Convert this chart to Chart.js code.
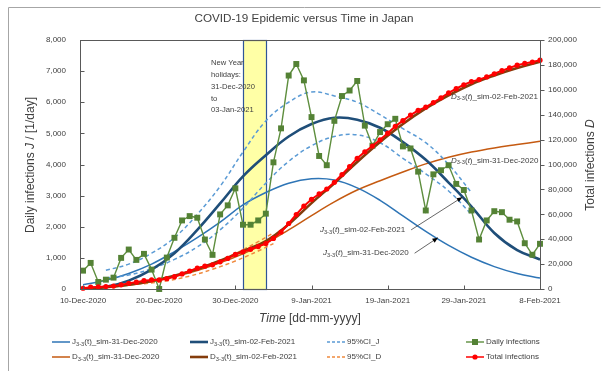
<!DOCTYPE html>
<html>
<head>
<meta charset="utf-8">
<script src="https://cdn.jsdelivr.net/npm/chart.js@4/dist/chart.umd.min.js"></script>
<style>
  html, body { margin: 0; background: #fff; }
  #wrap { position: relative; width: 608px; height: 371px; }
</style>
</head>
<body>
<div id="wrap"><canvas id="c" width="608" height="371"></canvas></div>
<script>
const F = "'Liberation Sans', Arial, sans-serif";
const TXT = '#404040';

// x axis: day index from 10-Dec-2020, labels every 10 days
const xTickDays = [0, 10, 20, 30, 40, 50, 60];
const xTickLabels = ['10-Dec-2020', '20-Dec-2020', '30-Dec-2020', '9-Jan-2021', '19-Jan-2021', '29-Jan-2021', '8-Feb-2021'];

// observed data, one value per day (day 0 = 10-Dec-2020)
const dailyInfections = [
  590, 838, 226, 300, 365, 1000, 1268, 935, 1129, 623,
  0, 1010, 1645, 2203, 2342, 2290, 1590, 1097, 2397, 2687,
  3235, 2065, 2065, 2203, 2420, 4070, 5161, 6858, 7229, 6703,
  5523, 4274, 3977, 5403, 6200, 6377, 6684, 5248, 4603, 5042,
  5294, 5468, 4581, 4516, 3771, 2523, 3684, 3816, 3977, 3377,
  3181, 2523, 1590, 2203, 2500, 2468, 2226, 2171, 1471, 1100,
  1452
];
const totalInfections = [
  590, 1428, 1654, 1954, 2319, 3319, 4587, 5522, 6651, 7274,
  7274, 8284, 9929, 12132, 14474, 16764, 18354, 19451, 21848, 24535,
  27770, 29835, 31900, 34103, 36523, 40593, 45754, 52612, 59841, 66544,
  72067, 76341, 80318, 85721, 91921, 98298, 104982, 110230, 114833, 119875,
  125169, 130637, 135218, 139734, 143505, 146028, 149712, 153528, 157505, 160882,
  164063, 166586, 168176, 170379, 172879, 175347, 177573, 179744, 181215, 182315,
  183767
];

// simulated curves, sampled every 3 days
const simDays = [0, 3, 6, 9, 12, 15, 18, 21, 24, 27, 30, 33, 36, 39, 42, 45, 48, 51, 54, 57, 60];
const jSim31Dec = [140, 280, 500, 800, 1200, 1650, 2150, 2700, 3100, 3400, 3540, 3500, 3250, 2850, 2350, 1850, 1400, 1020, 720, 500, 350];
const jSim02Feb = [20, 70, 270, 620, 1150, 1900, 2750, 3620, 4300, 4900, 5300, 5500, 5440, 5180, 4720, 4150, 3420, 2650, 1800, 1250, 950];
const dSim31Dec = [300, 1300, 3000, 5800, 9800, 14800, 21000, 28300, 36800, 47500, 59000, 70000, 79500, 87000, 94000, 100500, 105800, 110000, 113300, 116000, 118600];
const dSim02Feb = [300, 1400, 3500, 6500, 10600, 16000, 22800, 30400, 38500, 52000, 69000, 85000, 102000, 118000, 132500, 145000, 155500, 164500, 171500, 177500, 182500];

// 95% confidence bands
const ciJDays = [3, 6, 9, 12, 15, 18, 21, 24, 27, 30, 33, 36, 39, 42, 45, 48, 51];
const ciJUpper = [600, 800, 1150, 1650, 2400, 3300, 4400, 5400, 6000, 6330, 6200, 6000, 5600, 5150, 4700, 4000, 3100];
const ciJLower = [350, 450, 650, 950, 1350, 1900, 2600, 3400, 4100, 4600, 4900, 4950, 4700, 4200, 3700, 3150, 2400];
const ciDDays = [8, 11, 14, 17, 20, 23, 25];
const ciDUpper = [6000, 9000, 14000, 20500, 28500, 38000, 45000];
const ciDLower = [4200, 6600, 10400, 15800, 22500, 30500, 36500];

// New Year holidays: 31-Dec-2020 .. 03-Jan-2021
const holidayStart = 21;
const holidayEnd = 24;

const pairs = (xs, ys) => xs.map((x, i) => ({ x, y: ys[i] }));

const C = {
  j31: '#2E75B6', j02: '#1F4E79', ciJ: '#5B9BD5', daily: '#548235', dailyLine: '#5E8E3E',
  d31: '#C55A11', d02: '#843C0C', ciD: '#F08A3E', total: '#FF0000'
};

function line(label, data, color, width, extra) {
  return Object.assign({
    label, data, borderColor: color, backgroundColor: color, borderWidth: width,
    pointRadius: 0, tension: 0.4, fill: false, clip: 8
  }, extra || {});
}

const datasets = [
  line('total', pairs(dailyInfections.map((_, i) => i), totalInfections), C.total, 2,
    { yAxisID: 'y1', tension: 0, pointRadius: 2.6, pointStyle: 'circle', pointBorderWidth: 0, order: 0 }),
  line('daily', pairs(dailyInfections.map((_, i) => i), dailyInfections), C.dailyLine, 1.4,
    { yAxisID: 'y', tension: 0, pointRadius: 4.2, pointStyle: 'rect', pointBackgroundColor: C.daily,
      pointBorderColor: C.daily, pointBorderWidth: 0, order: 1 }),
  line('j02', pairs(simDays, jSim02Feb), C.j02, 2.6, { yAxisID: 'y', order: 3 }),
  line('d02', pairs(simDays, dSim02Feb), C.d02, 2.6, { yAxisID: 'y1', order: 2 }),
  line('j31', pairs(simDays, jSim31Dec), C.j31, 1.5, { yAxisID: 'y', order: 5 }),
  line('d31', pairs(simDays, dSim31Dec), C.d31, 1.5, { yAxisID: 'y1', order: 5 }),
  line('ciJu', pairs(ciJDays, ciJUpper), C.ciJ, 1.5, { yAxisID: 'y', borderDash: [4, 3], order: 4 }),
  line('ciJl', pairs(ciJDays, ciJLower), C.ciJ, 1.5, { yAxisID: 'y', borderDash: [4, 3], order: 4 }),
  line('ciDu', pairs(ciDDays, ciDUpper), C.ciD, 1.5, { yAxisID: 'y1', borderDash: [4, 3], order: 4 }),
  line('ciDl', pairs(ciDDays, ciDLower), C.ciD, 1.5, { yAxisID: 'y1', borderDash: [4, 3], order: 4 })
];

// text with italic letters and subscripts
function rich(ctx, parts, x, y, size, align) {
  const font = p => `${p.i ? 'italic ' : ''}${p.sub ? size * 0.72 : size}px ${F}`;
  let w = 0;
  for (const p of parts) { ctx.font = font(p); w += ctx.measureText(p.t).width; }
  let cx = align === 'center' ? x - w / 2 : (align === 'right' ? x - w : x);
  ctx.textAlign = 'left';
  ctx.textBaseline = 'middle';
  for (const p of parts) {
    ctx.font = font(p);
    ctx.fillText(p.t, cx, p.sub ? y + size * 0.28 : y);
    cx += ctx.measureText(p.t).width;
  }
  return w;
}
const simName = (letter, rest, it) => [
  { t: letter, i: it }, { t: '3-3', sub: true }, { t: '(' }, { t: 't', i: it }, { t: ')' + rest }
];

function arrow(ctx, x0, y0, x1, y1) {
  const a = Math.atan2(y1 - y0, x1 - x0);
  ctx.beginPath();
  ctx.moveTo(x0, y0);
  ctx.lineTo(x1, y1);
  ctx.stroke();
  ctx.beginPath();
  ctx.moveTo(x1, y1);
  ctx.lineTo(x1 - 6 * Math.cos(a - 0.4), y1 - 6 * Math.sin(a - 0.4));
  ctx.lineTo(x1 - 6 * Math.cos(a + 0.4), y1 - 6 * Math.sin(a + 0.4));
  ctx.closePath();
  ctx.fill();
}

const legendItems = [
  { parts: simName('J', '_sim-31-Dec-2020'), color: C.j31, w: 1.5 },
  { parts: simName('J', '_sim-02-Feb-2021'), color: C.j02, w: 2.6 },
  { parts: [{ t: '95%CI_J' }], color: C.ciJ, w: 1.5, dash: [3, 2] },
  { parts: [{ t: 'Daily infections' }], color: C.dailyLine, w: 1.4, marker: 'rect', mc: C.daily },
  { parts: simName('D', '_sim-31-Dec-2020'), color: C.d31, w: 1.5 },
  { parts: simName('D', '_sim-02-Feb-2021'), color: C.d02, w: 2.6 },
  { parts: [{ t: '95%CI_D' }], color: C.ciD, w: 1.5, dash: [3, 2] },
  { parts: [{ t: 'Total infections' }], color: C.total, w: 1.5, marker: 'circle', mc: C.total }
];
const legendCols = [52, 190, 327, 466];
const legendRows = [342, 357];

const decor = {
  id: 'decor',
  beforeDatasetsDraw(chart) {
    const { ctx, chartArea: a, scales: { x } } = chart;
    const x0 = Math.round(x.getPixelForValue(holidayStart)) + 0.5;
    const x1 = Math.round(x.getPixelForValue(holidayEnd)) + 0.5;
    ctx.save();
    ctx.fillStyle = '#FFFFA6';
    ctx.fillRect(x0, a.top, x1 - x0, a.bottom - a.top);
    ctx.strokeStyle = '#2F5597';
    ctx.lineWidth = 1.2;
    ctx.strokeRect(x0, Math.round(a.top) + 0.5, x1 - x0, Math.round(a.bottom - a.top));
    ctx.restore();
  },
  afterDraw(chart) {
    const { ctx, chartArea: a, scales: { x, y, y1 } } = chart;
    ctx.save();

    // outer frame
    ctx.strokeStyle = '#A6A6A6';
    ctx.lineWidth = 1;
    ctx.beginPath();
    ctx.moveTo(8.5, 371);
    ctx.lineTo(8.5, 7.5);
    ctx.lineTo(600.5, 7.5);
    ctx.stroke();

    // plot frame and tick marks
    ctx.strokeStyle = '#595959';
    ctx.lineWidth = 1;
    const L = Math.round(a.left) + 0.5, R = Math.round(a.right) + 0.5;
    const T = Math.round(a.top) + 0.5, B = Math.round(a.bottom) + 0.5;
    ctx.strokeRect(L, T, R - L, B - T);
    ctx.beginPath();
    for (const d of xTickDays) {
      const px = Math.round(x.getPixelForValue(d)) + 0.5;
      ctx.moveTo(px, B); ctx.lineTo(px, B - 4);
    }
    for (let v = 0; v <= 8000; v += 1000) {
      const py = Math.round(y.getPixelForValue(v)) + 0.5;
      ctx.moveTo(L, py); ctx.lineTo(L + 4, py);
    }
    for (let v = 0; v <= 200000; v += 20000) {
      const py = Math.round(y1.getPixelForValue(v)) + 0.5;
      ctx.moveTo(R, py); ctx.lineTo(R + 4, py);
    }
    ctx.stroke();

    ctx.fillStyle = TXT;
    // title
    rich(ctx, [{ t: 'COVID-19 Epidemic versus Time in Japan' }], 304, 19, 11.7, 'center');
    // axis titles
    rich(ctx, [{ t: 'Time', i: true }, { t: ' [dd-mm-yyyy]' }], 310, 319, 12, 'center');
    ctx.save();
    ctx.translate(31, 165);
    ctx.rotate(-Math.PI / 2);
    rich(ctx, [{ t: 'Daily infections ' }, { t: 'J', i: true }, { t: ' / [1/day]' }], 0, 0, 12, 'center');
    ctx.restore();
    ctx.save();
    ctx.translate(591, 165);
    ctx.rotate(-Math.PI / 2);
    rich(ctx, [{ t: 'Total infections ' }, { t: 'D', i: true }], 0, 0, 12, 'center');
    ctx.restore();

    // holiday note
    const noteLines = ['New Year', 'holidays:', '31-Dec-2020', 'to', '03-Jan-2021'];
    const nx = x.getPixelForValue(16.8), ny = y.getPixelForValue(7250);
    noteLines.forEach((s, i) => rich(ctx, [{ t: s }], nx, ny + i * 11.75, 7.6, 'left'));

    // curve labels
    const fs = 8;
    rich(ctx, simName('D', '_sim-02-Feb-2021', true), x.getPixelForValue(48.3), y.getPixelForValue(6190), fs, 'left');
    rich(ctx, simName('D', '_sim-31-Dec-2020', true), x.getPixelForValue(48.3), y.getPixelForValue(4130), fs, 'left');
    ctx.strokeStyle = '#404040';
    ctx.lineWidth = 0.8;
    const jl = [
      { name: '_sim-02-Feb-2021', d: 31.1, v: 1900, td: 49.8, tv: 2950 },
      { name: '_sim-31-Dec-2020', d: 31.5, v: 1150, td: 46.6, tv: 1650 }
    ];
    for (const l of jl) {
      const lx = x.getPixelForValue(l.d), ly = y.getPixelForValue(l.v);
      ctx.fillStyle = TXT;
      const w = rich(ctx, simName('J', l.name, true), lx, ly, fs, 'left');
      ctx.fillStyle = '#000';
      arrow(ctx, lx + w + 6, ly, x.getPixelForValue(l.td), y.getPixelForValue(l.tv));
    }

    // legend
    legendItems.forEach((it, k) => {
      const lx = legendCols[k % 4], ly = legendRows[Math.floor(k / 4)];
      ctx.strokeStyle = it.color;
      ctx.lineWidth = it.w;
      ctx.setLineDash(it.dash || []);
      ctx.beginPath();
      ctx.moveTo(lx, ly); ctx.lineTo(lx + 18, ly);
      ctx.stroke();
      ctx.setLineDash([]);
      ctx.fillStyle = it.mc;
      if (it.marker === 'rect') ctx.fillRect(lx + 6, ly - 3, 6, 6);
      if (it.marker === 'circle') { ctx.beginPath(); ctx.arc(lx + 9, ly, 2.6, 0, Math.PI * 2); ctx.fill(); }
      ctx.fillStyle = TXT;
      rich(ctx, it.parts, lx + 20, ly, 8, 'left');
    });
    ctx.restore();
  }
};

const tickFont = { family: F, size: 8 };
const noGrid = { display: false, drawTicks: false };

new Chart(document.getElementById('c'), {
  type: 'line',
  data: { datasets },
  options: {
    responsive: false,
    animation: false,
    layout: { padding: { top: 40, left: 0, right: 0, bottom: 0 } },
    plugins: { legend: { display: false }, tooltip: { enabled: false } },
    scales: {
      x: {
        type: 'linear', min: -0.4, max: 60,
        grid: noGrid, border: { display: false },
        ticks: { autoSkip: false, maxRotation: 0, font: tickFont, color: TXT, padding: 7,
                 callback: v => xTickLabels[xTickDays.indexOf(v)] },
        afterBuildTicks: s => { s.ticks = xTickDays.map(value => ({ value })); },
        afterFit: s => { s.height = 82; }
      },
      y: {
        position: 'left', min: 0, max: 8000,
        grid: noGrid, border: { display: false },
        ticks: { stepSize: 1000, font: tickFont, color: TXT, padding: 14,
                 callback: v => v.toLocaleString('en-US') },
        afterFit: s => { s.width = 80; }
      },
      y1: {
        position: 'right', min: 0, max: 200000,
        grid: noGrid, border: { display: false },
        ticks: { stepSize: 20000, font: tickFont, color: TXT, padding: 8,
                 callback: v => v.toLocaleString('en-US') },
        afterFit: s => { s.width = 68; }
      }
    }
  },
  plugins: [decor]
});
</script>
</body>
</html>
